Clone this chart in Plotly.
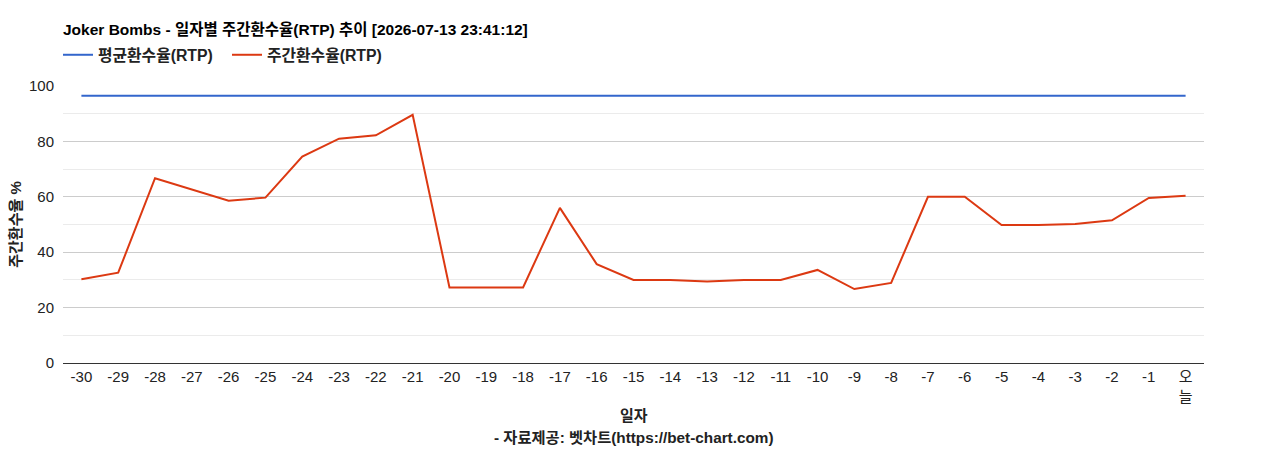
import plotly.graph_objects as go

categories = ["-30","-29","-28","-27","-26","-25","-24","-23","-22","-21","-20","-19","-18","-17","-16",
              "-15","-14","-13","-12","-11","-10","-9","-8","-7","-6","-5","-4","-3","-2","-1","오늘"]
tick_labels = categories[:-1] + ["오<br>늘"]
weekly_rtp = [30.2, 32.6, 66.7, 62.7, 58.6, 59.7, 74.5, 81.0, 82.2, 89.6, 27.3, 27.3, 27.3, 56.0, 35.7,
              30.0, 30.0, 29.4, 30.0, 30.0, 33.6, 26.7, 28.9, 60.0, 60.0, 49.8, 49.8, 50.2, 51.5, 59.6, 60.4]
avg_rtp = [96.5] * len(categories)

FONT = "Arial, 'Liberation Sans', 'Noto Sans CJK KR', sans-serif"
PH = 277.0  # plot height px

fig = go.Figure()
fig.add_trace(go.Scatter(x=categories, y=avg_rtp, mode="lines", name="<b>평균환수율(RTP)</b>",
                         line=dict(color="#3366cc", width=2)))
fig.add_trace(go.Scatter(x=categories, y=weekly_rtp, mode="lines", name="<b>주간환수율(RTP)</b>",
                         line=dict(color="#dc3912", width=2)))

fig.update_layout(
    width=1268, height=450,
    margin=dict(l=63, r=64, t=86, b=87),
    paper_bgcolor="white", plot_bgcolor="white",
    font=dict(family=FONT, size=15, color="#222222"),
    title=dict(text="<b>Joker Bombs - 일자별 주간환수율(RTP) 추이 [2026-07-13 23:41:12]</b>",
               x=63/1268, xanchor="left", y=1-30/450, yanchor="middle",
               font=dict(size=15.5, color="#000000")),
    legend=dict(orientation="h", x=-5/1141, xanchor="left", y=1 + (86-55)/PH, yref="paper",
                yanchor="middle", xref="paper", font=dict(size=15.8, color="#222222"), itemwidth=30,
                entrywidth=124, entrywidthmode="pixels",
                bgcolor="rgba(0,0,0,0)", tracegroupgap=0),
    showlegend=True,
    xaxis=dict(type="category", tickmode="array", tickvals=categories, ticktext=tick_labels,
               range=[-0.5, len(categories)-0.5], showgrid=False, showline=True,
               linecolor="#333333", linewidth=1, ticks="", tickfont=dict(size=15, color="#222222"),
               fixedrange=True),
    yaxis=dict(range=[0, 100], tickmode="array", tickvals=[0, 20, 40, 60, 80, 100],
               showgrid=True, gridcolor="#cccccc", gridwidth=1, zeroline=False,
               ticks="", tickfont=dict(size=15, color="#222222"), ticklabelstandoff=8,
               minor=dict(tickvals=[10, 30, 50, 70, 90], showgrid=True, gridcolor="#ebebeb", gridwidth=1),
               title=dict(text="<b>주간환수율 %</b>", font=dict(size=15, color="#222222"), standoff=3),
               fixedrange=True),
)

fig.add_annotation(text="<b>일자</b>", x=0.5, xref="paper", y=-(415-363)/PH, yref="paper",
                   showarrow=False, yanchor="middle", font=dict(size=15, color="#222222"))
fig.add_annotation(text="<b>- 자료제공: 벳차트(https://bet-chart.com)</b>", x=0.5, xref="paper",
                   y=-(437-363)/PH, yref="paper", showarrow=False, yanchor="middle",
                   font=dict(size=15.3, color="#222222"))

fig.write_html("out.html")
